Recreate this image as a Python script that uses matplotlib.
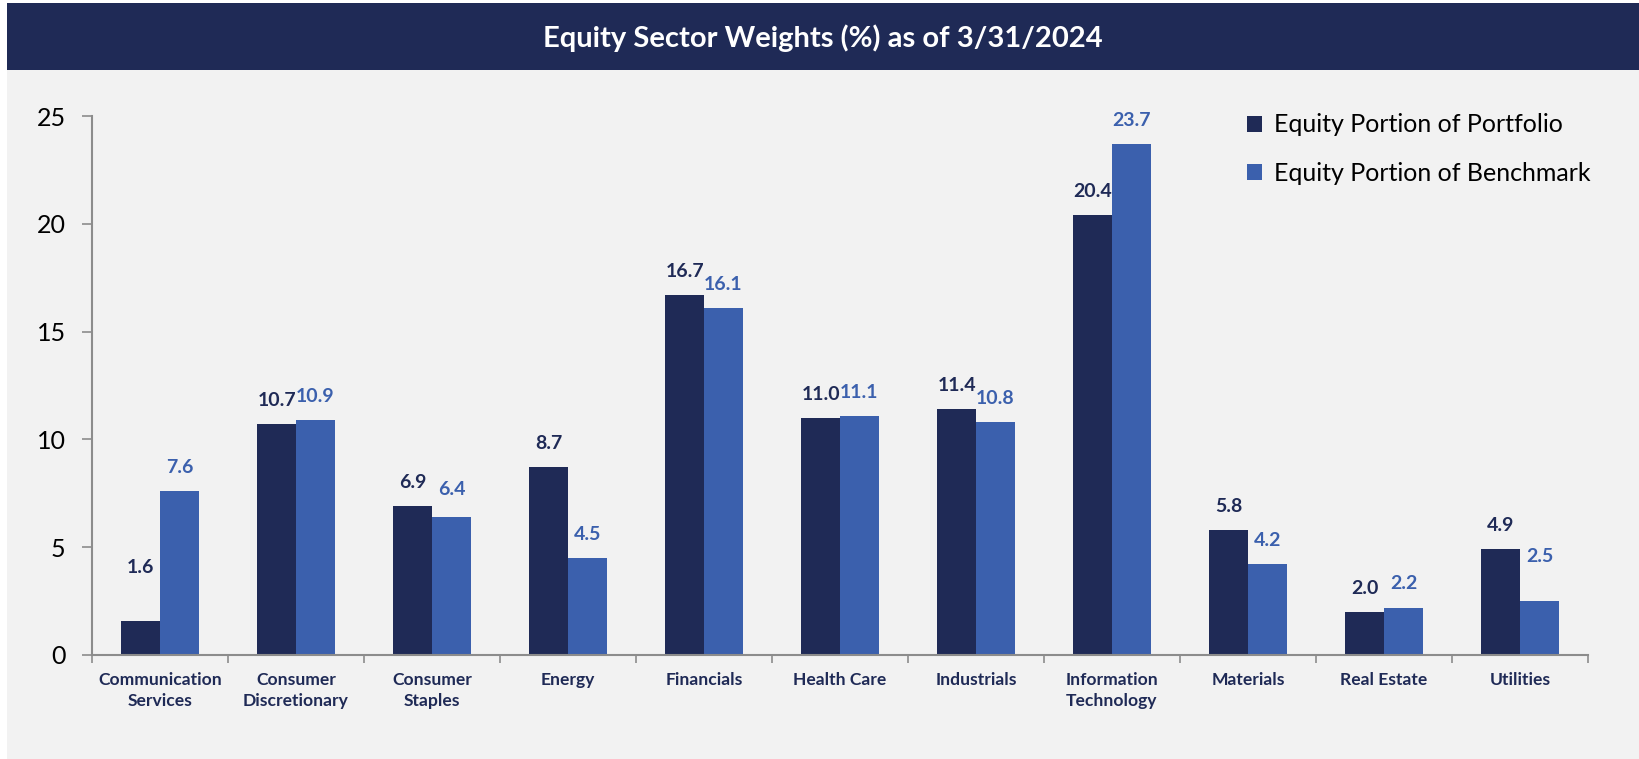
import matplotlib
matplotlib.use("Agg")
import matplotlib.pyplot as plt
from matplotlib.patches import Rectangle
import numpy as np

categories = ["Communication\nServices", "Consumer\nDiscretionary", "Consumer\nStaples", "Energy",
              "Financials", "Health Care", "Industrials", "Information\nTechnology", "Materials",
              "Real Estate", "Utilities"]
portfolio = [1.6, 10.7, 6.9, 8.7, 16.7, 11.0, 11.4, 20.4, 5.8, 2.0, 4.9]
benchmark = [7.6, 10.9, 6.4, 4.5, 16.1, 11.1, 10.8, 23.7, 4.2, 2.2, 2.5]
series_names = ["Equity Portion of Portfolio", "Equity Portion of Benchmark"]
title = "Equity Sector Weights (%) as of 3/31/2024"
yticks = [0, 5, 10, 15, 20, 25]

NAVY = "#1f2a56"
BLUE = "#3b60ad"
BG = "#f2f2f2"
AXC = "#8c8c8c"

plt.rcParams['font.family'] = ['Lato', 'DejaVu Sans']

W, H = 1640, 759
fig = plt.figure(figsize=(W / 100, H / 100), dpi=100)
fig.patch.set_facecolor("white")

# background panel and title banner
fig.patches.append(Rectangle((7 / W, 0), 1 - 7 / W, 1 - 70 / H, transform=fig.transFigure,
                             facecolor=BG, edgecolor="none", zorder=-10))
fig.patches.append(Rectangle((7 / W, 1 - 70 / H), 1 - 7 / W, 67 / H, transform=fig.transFigure,
                             facecolor=NAVY, edgecolor="none", zorder=-10))
fig.text(0.5 + 3 / W, 1 - 38 / H, title, color="white", fontsize=21, fontweight="bold",
         ha="center", va="center")

ax = fig.add_axes([92 / W, 1 - 655 / H, (1588 - 92) / W, (655 - 116) / H])
ax.set_facecolor("none")
ax.set_zorder(1)

x = np.arange(len(categories))
bw = 0.285
b1 = ax.bar(x - bw / 2, portfolio, bw, color=NAVY, label=series_names[0], zorder=2)
b2 = ax.bar(x + bw / 2, benchmark, bw, color=BLUE, label=series_names[1], zorder=2)

# label offsets in points (Excel nudged a couple of small labels upward)
off1 = [38, 17, 17, 17, 17, 17, 17, 17, 17, 17, 17]
off2 = [17, 17, 20, 17, 17, 17, 17, 17, 17, 17, 32]
for xi, v, o in zip(x - bw / 2, portfolio, off1):
    ax.annotate(f"{v:.1f}", (xi, v), xytext=(0, o), textcoords="offset points",
                ha="center", va="center", fontsize=14, fontweight="bold", color=NAVY)
for xi, v, o in zip(x + bw / 2, benchmark, off2):
    ax.annotate(f"{v:.1f}", (xi, v), xytext=(0, o), textcoords="offset points",
                ha="center", va="center", fontsize=14, fontweight="bold", color=BLUE)

ax.set_xlim(-0.5, len(categories) - 0.5)
ax.set_ylim(0, 25)
ax.set_yticks(yticks)
ax.tick_params(axis="y", labelsize=18, length=7, width=1.2, color=AXC, pad=12, labelcolor="black")

ax.set_xticks(x)
ax.set_xticklabels(categories, fontsize=12.6, fontweight="bold", color=NAVY, linespacing=1.4)
ax.tick_params(axis="x", length=0, pad=12)
ax.set_xticks(np.arange(-0.5, len(categories), 1.0), minor=True)
ax.tick_params(axis="x", which="minor", length=6, width=1.2, color=AXC)

for s in ["top", "right"]:
    ax.spines[s].set_visible(False)
for s in ["left", "bottom"]:
    ax.spines[s].set_color(AXC)
    ax.spines[s].set_linewidth(1.5)

leg = fig.legend(handles=[b1, b2], loc="upper left", bbox_to_anchor=(1225 / W, 1 - 91 / H),
                 frameon=False, fontsize=18, handlelength=0.6, handleheight=0.6,
                 handletextpad=0.45, labelspacing=1.02)

fig.savefig("out.png", dpi=100, facecolor=fig.get_facecolor())
